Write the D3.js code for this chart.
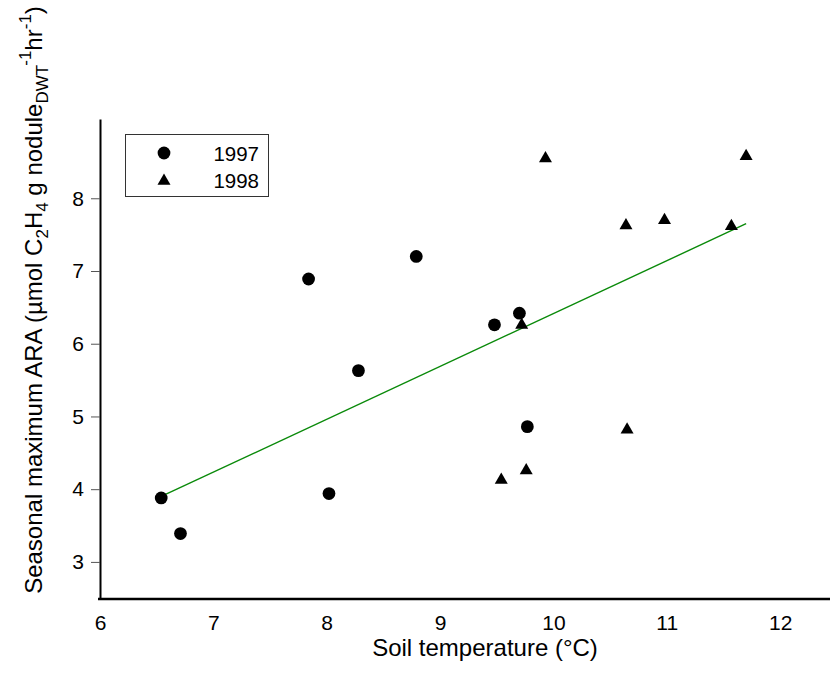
<!DOCTYPE html>
<html>
<head>
<meta charset="utf-8">
<script src="https://cdn.jsdelivr.net/npm/d3@7"></script>
<style>
  body { margin: 0; background: #fff; }
  svg text { font-family: "Liberation Sans", Arial, sans-serif; fill: #000; }
</style>
</head>
<body>
<svg id="chart" width="831" height="675"></svg>
<script>
// Seasonal maximum ARA against soil temperature, two seasons
const temp1997 = [6.54, 6.71, 7.84, 8.02, 8.28, 8.79, 9.48, 9.70, 9.77];
const ara1997  = [3.88, 3.39, 6.89, 3.94, 5.63, 7.20, 6.26, 6.42, 4.86];
const temp1998 = [9.54, 9.72, 9.76, 9.93, 10.64, 10.65, 10.98, 11.57, 11.70];
const ara1998  = [4.14, 6.27, 4.27, 8.56, 7.64, 4.83, 7.71, 7.63, 8.59];
// regression line end points
const fitTemp = [6.54, 11.70];
const fitAra  = [3.90, 7.65];
const xTicks = [6, 7, 8, 9, 10, 11, 12];
const yTicks = [3, 4, 5, 6, 7, 8];
const seriesNames = ["1997", "1998"];

const svg = d3.select("#chart");
const x = d3.scaleLinear().domain([6, 12.44]).range([100, 830]);
const y = d3.scaleLinear().domain([2.49, 9.09]).range([599, 119]);

// x axis: line and labels, no tick marks
const gx = svg.append("g").attr("transform", "translate(0,599)")
  .call(d3.axisBottom(x).tickValues(xTicks).tickSize(0).tickPadding(16).tickFormat(d3.format("d")));
gx.select(".domain").attr("stroke", "#000").attr("stroke-width", 2.5).attr("d", "M98,0H830");
gx.selectAll("text").attr("font-size", 21).attr("font-family", "Liberation Sans, Arial, sans-serif");

// y axis
const gy = svg.append("g").attr("transform", "translate(100,0)")
  .call(d3.axisLeft(y).tickValues(yTicks).tickSize(9).tickSizeOuter(0).tickPadding(7).tickFormat(d3.format("d")));
gy.select(".domain").attr("stroke", "#000").attr("stroke-width", 2);
gy.selectAll(".tick line").attr("stroke", "#555").attr("stroke-width", 1);
gy.selectAll("text").attr("font-size", 21).attr("font-family", "Liberation Sans, Arial, sans-serif");

// regression line
svg.append("line")
  .attr("x1", x(fitTemp[0])).attr("y1", y(fitAra[0]))
  .attr("x2", x(fitTemp[1])).attr("y2", y(fitAra[1]))
  .attr("stroke", "#0a8a0a").attr("stroke-width", 1.4);

const circle = d3.symbol().type(d3.symbolCircle).size(128);
const tri = d3.symbol().type(d3.symbolTriangle).size(73);

svg.append("g").selectAll("path").data(d3.range(temp1997.length)).join("path")
  .attr("d", circle)
  .attr("transform", i => `translate(${x(temp1997[i])},${y(ara1997[i])})`)
  .attr("fill", "#000");

svg.append("g").selectAll("path").data(d3.range(temp1998.length)).join("path")
  .attr("d", tri)
  .attr("transform", i => `translate(${x(temp1998[i])},${y(ara1998[i]) + 1})`)
  .attr("fill", "#000");

// legend
const lg = svg.append("g");
lg.append("rect").attr("x", 125.5).attr("y", 134.5).attr("width", 143).attr("height", 62)
  .attr("fill", "#fff").attr("stroke", "#333").attr("stroke-width", 1);
lg.append("path").attr("d", circle).attr("transform", "translate(164,153)").attr("fill", "#000");
lg.append("path").attr("d", tri).attr("transform", "translate(164,181)").attr("fill", "#000");
lg.selectAll("text.lab").data(seriesNames).join("text").attr("class", "lab")
  .attr("x", 259).attr("y", (d, i) => 160.5 + i * 27)
  .attr("text-anchor", "end").attr("font-size", 20.5).text(d => d);

// axis titles
svg.append("text").attr("x", 485).attr("y", 656).attr("text-anchor", "middle")
  .attr("font-size", 24).text("Soil temperature (\u00B0C)");

const yt = svg.append("text").attr("transform", "translate(42,300) rotate(-90)")
  .attr("text-anchor", "middle").attr("font-size", 24);
yt.append("tspan").text("Seasonal maximum ARA (\u00B5mol C");
yt.append("tspan").attr("font-size", 17).attr("dy", 6).text("2");
yt.append("tspan").attr("dy", -6).text("H");
yt.append("tspan").attr("font-size", 17).attr("dy", 6).text("4");
yt.append("tspan").attr("dy", -6).text(" g nodule");
yt.append("tspan").attr("font-size", 17).attr("dy", 6).text("DWT");
yt.append("tspan").attr("font-size", 17).attr("dy", -17).text("-1");
yt.append("tspan").attr("dy", 11).text("hr");
yt.append("tspan").attr("font-size", 17).attr("dy", -11).text("-1");
yt.append("tspan").attr("dy", 11).text(")");
</script>
</body>
</html>
